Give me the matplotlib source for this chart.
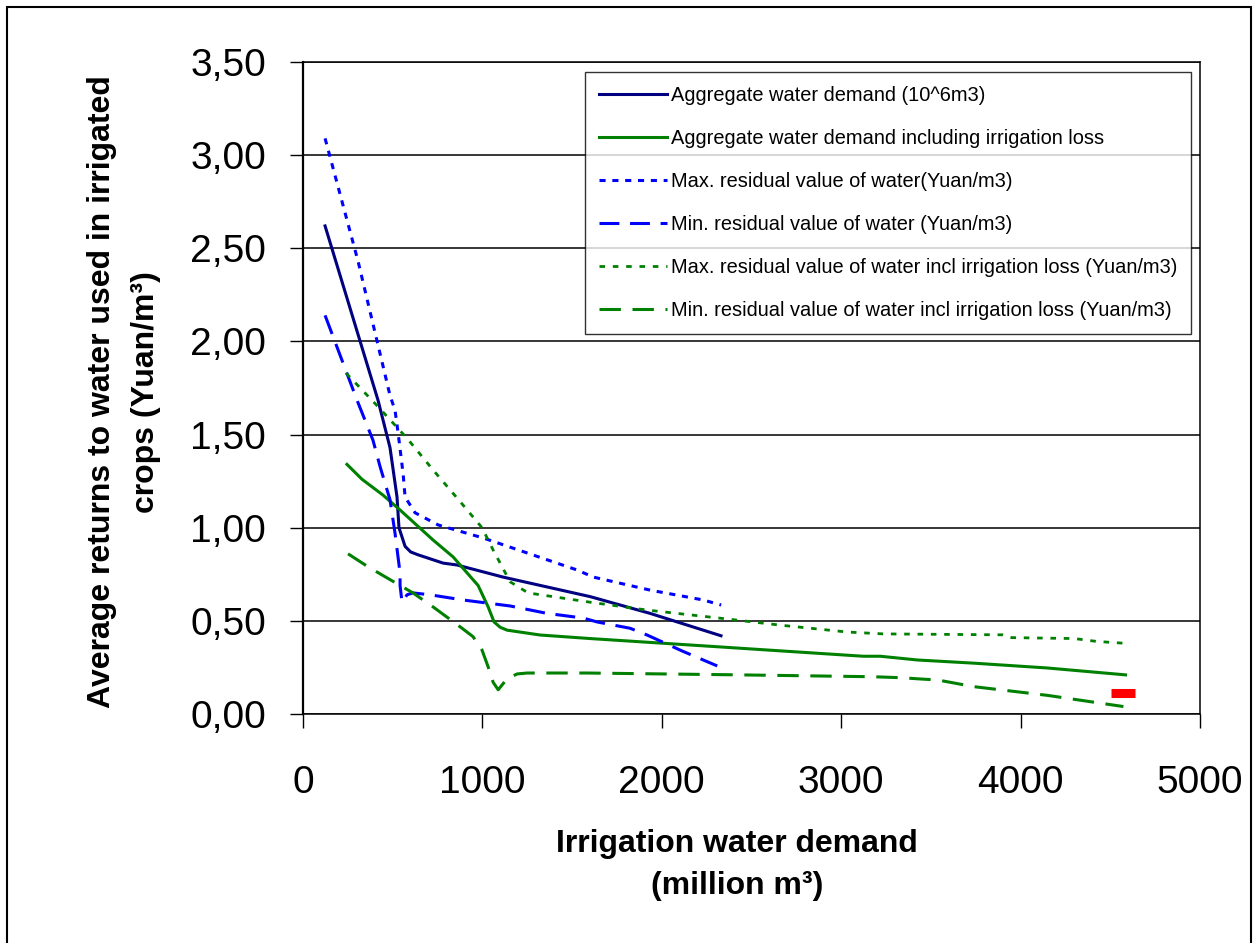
import matplotlib
matplotlib.use("Agg")
import matplotlib.pyplot as plt
from matplotlib.patches import Rectangle

plt.rcParams["font.family"] = ["Liberation Sans", "DejaVu Sans"]

# aggregate water demand (navy, solid)
agg_x = [123, 418, 485, 524, 535, 569, 600, 640, 781, 858, 1115, 1601, 1935, 2330]
agg_y = [2.62, 1.685, 1.43, 1.165, 1.0, 0.90, 0.87, 0.855, 0.81, 0.80, 0.735, 0.63, 0.54, 0.42]

# aggregate incl. irrigation loss (green, solid)
agg_loss_x = [245, 329, 446, 541, 725, 837, 976, 1032, 1065, 1100, 1138, 1322, 1601,
              2326, 3123, 3218, 3424, 3737, 4150, 4585]
agg_loss_y = [1.34, 1.26, 1.175, 1.095, 0.934, 0.843, 0.69, 0.575, 0.494, 0.465, 0.45,
              0.424, 0.405, 0.36, 0.31, 0.31, 0.29, 0.273, 0.247, 0.21]

# max residual value (blue, dotted)
max_x = [123, 307, 485, 513, 530, 558, 569, 625, 753, 1004, 1528, 1618, 1935, 2231, 2331]
max_y = [3.09, 2.43, 1.71, 1.63, 1.51, 1.29, 1.165, 1.08, 1.015, 0.945, 0.773, 0.735,
         0.665, 0.612, 0.585]

# min residual value (blue, dashed)
min_x = [123, 301, 390, 429, 485, 513, 541, 541, 552, 580, 613, 708, 892, 1154, 1361,
         1562, 1640, 1824, 1918, 2114, 2309]
min_y = [2.14, 1.685, 1.47, 1.33, 1.15, 0.97, 0.757, 0.69, 0.60, 0.64, 0.65, 0.64, 0.612,
         0.58, 0.54, 0.515, 0.494, 0.46, 0.424, 0.338, 0.258]

# max residual incl. loss (green, dotted)
max_loss_x = [240, 418, 580, 725, 876, 998, 1060, 1099, 1154, 1255, 1601, 1918, 2365,
              2660, 3034, 3235, 3900, 3950, 4300, 4420, 4573]
max_loss_y = [1.83, 1.65, 1.48, 1.31, 1.14, 1.0, 0.88, 0.81, 0.71, 0.65, 0.60, 0.558,
              0.51, 0.477, 0.44, 0.43, 0.425, 0.41, 0.405, 0.39, 0.38]

# min residual incl. loss (green, dashed)
min_loss_x = [251, 363, 541, 613, 725, 887, 948, 998, 1032, 1060, 1088, 1138, 1194, 1249,
              1584, 2437, 3179, 3330, 3458, 3536, 3737, 4150, 4573]
min_loss_y = [0.86, 0.79, 0.69, 0.65, 0.575, 0.46, 0.415, 0.343, 0.253, 0.17, 0.13, 0.19,
              0.215, 0.22, 0.22, 0.21, 0.20, 0.195, 0.187, 0.183, 0.147, 0.10, 0.04]

red_x = [4573]
red_y = [0.115]

labels = [
    "Aggregate water demand (10^6m3)",
    "Aggregate water demand including irrigation loss",
    "Max. residual value of water(Yuan/m3)",
    "Min. residual value of water (Yuan/m3)",
    "Max. residual value of water incl irrigation loss (Yuan/m3)",
    "Min. residual value of water incl irrigation loss (Yuan/m3)",
]

y_ticks = [0, 0.5, 1.0, 1.5, 2.0, 2.5, 3.0, 3.5]
y_tick_labels = ["0,00", "0,50", "1,00", "1,50", "2,00", "2,50", "3,00", "3,50"]
x_ticks = [0, 1000, 2000, 3000, 4000, 5000]

fig = plt.figure(figsize=(12.57, 9.43), dpi=100)
ax = fig.add_axes([303 / 1257, 1 - 714 / 943, 897 / 1257, 652 / 943])

ax.plot(agg_x, agg_y, color="#000080", lw=2.2, label=labels[0])
ax.plot(agg_loss_x, agg_loss_y, color="#008000", lw=2.2, label=labels[1])
ax.plot(max_x, max_y, color="#0000FF", lw=2.2, dashes=(2, 2.2), label=labels[2])
ax.plot(min_x, min_y, color="#0000FF", lw=2.2, dashes=(6.5, 3.5), label=labels[3])
ax.plot(max_loss_x, max_loss_y, color="#008000", lw=2.0, dashes=(2, 2.8), label=labels[4])
ax.plot(min_loss_x, min_loss_y, color="#008000", lw=2.2, dashes=(7, 3.8), label=labels[5])
ax.plot(red_x, red_y, color="red", marker="_", ms=17, mew=6.5, ls="none")

ax.set_xlim(0, 5000)
ax.set_ylim(0, 3.5)
ax.set_xticks(x_ticks)
ax.set_yticks(y_ticks)
ax.set_yticklabels(y_tick_labels)
ax.tick_params(axis="both", direction="out", labelsize=28, width=1, color="black")
ax.tick_params(axis="y", length=9.5, pad=17)
ax.tick_params(axis="x", length=10, pad=27)
ax.yaxis.grid(True, color="black", lw=1.1)
ax.set_axisbelow(True)
for side in ["top", "right", "bottom"]:
    ax.spines[side].set_linewidth(1.1)
ax.spines["left"].set_linewidth(1.6)

leg = ax.legend(loc="upper right", bbox_to_anchor=(0.990, 0.985), fontsize=14.4,
                frameon=True, fancybox=False, edgecolor="black", handlelength=3.4,
                handletextpad=0.2, labelspacing=1.2, borderpad=0.7, borderaxespad=0)
leg.get_frame().set_linewidth(1.0)

fig.text(124 / 1257, 1 - 392 / 943,
         "Average returns to water used in irrigated\ncrops (Yuan/m³)",
         rotation=90, ha="center", va="center", fontsize=23, fontweight="bold",
         multialignment="center", linespacing=1.6)
fig.text(737 / 1257, 1 - 865 / 943, "Irrigation water demand\n(million m³)",
         ha="center", va="center", fontsize=23, fontweight="bold",
         multialignment="center", linespacing=1.55)

fig.patches.append(Rectangle((7 / 1257, -0.01), 1244 / 1257, 0.01 + 936 / 943,
                             transform=fig.transFigure, fill=False,
                             edgecolor="black", lw=1.5))

fig.savefig("out.png", dpi=100)
